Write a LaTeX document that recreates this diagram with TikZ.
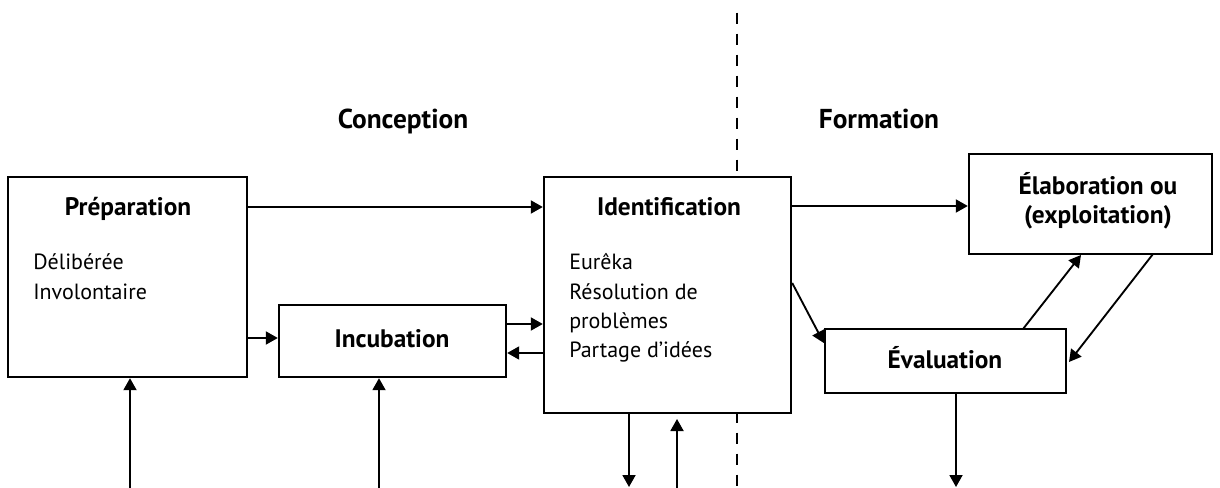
\documentclass[tikz,border=0pt]{standalone}
\usepackage{fontspec}
\setmainfont{PT Sans}
\usetikzlibrary{arrows.meta,fit}
\begin{document}
\begin{tikzpicture}[x=0.75pt,y=-0.75pt,
  box/.style={draw, line width=1.8pt, fill=white, inner sep=0pt},
  link/.style={line width=1.4pt, -{Triangle[length=9pt,width=9.75pt]}},
  divider/.style={line width=2pt, dash pattern=on 8.25pt off 7.5pt},
  phase/.style={font=\fontsize{20.5}{24}\selectfont\bfseries, anchor=base, inner sep=0pt},
  head/.style={font=\fontsize{19}{22}\selectfont\bfseries, anchor=base, inner sep=0pt},
  item/.style={font=\fontsize{16.5}{20}\selectfont, anchor=base west, inner sep=0pt}
]
\useasboundingbox (0,0) rectangle (1220,488);

% phase divider
\coordinate (dtop) at (737,12.7);
\coordinate (dbot) at (737,488);
\draw[divider] (dtop) -- (dbot);

% phase titles
\node[phase] (conc) at (403,129) {Conception};
\node[phase] (form) at (879,129) {Formation};

% process boxes
\node[box, fit={(8,177) (247,377)}] (prep) {};
\node[box, fit={(279,305) (506,377)}] (incub) {};
\node[box, fit={(544,177) (791,413)}] (ident) {};
\node[box, fit={(969,154) (1212,254)}] (elab) {};
\node[box, fit={(825,329) (1066,393)}] (eval) {};

% box contents
\node[head] (tprep) at (128,216) {Préparation};
\node[item] (p1) at (33,270) {Délibérée};
\node[item] (p2) at (33,299) {Involontaire};
\node[head] (tincub) at (392,347) {Incubation};
\node[head] (tident) at (669,216) {Identification};
\node[item] (i1) at (569,270) {Eurêka};
\node[item] (i2) at (569,299) {Résolution de};
\node[item] (i3) at (569,328) {problèmes};
\node[item] (i4) at (569,357) {Partage d’idées};
\node[head] (telab1) at (1098,195) {Élaboration ou};
\node[head] (telab2) at (1098,224) {(exploitation)};
\node[head] (teval) at (945,368) {Évaluation};

% helper heights for horizontal links
\coordinate (h1) at (0,207);
\coordinate (h2) at (0,338);
\coordinate (h3) at (0,324);
\coordinate (h4) at (0,353);
\coordinate (h5) at (0,206);
\coordinate (h6) at (0,283);
\coordinate (h7) at (0,343);

\draw[link] (prep.east |- h1) -- (ident.west |- h1);
\draw[link] (prep.east |- h2) -- (incub.west |- h2);
\draw[link] (incub.east |- h3) -- (ident.west |- h3);
\draw[link] (ident.west |- h4) -- (incub.east |- h4);
\draw[link] (ident.east |- h5) -- (elab.west |- h5);
\draw[link] (ident.east |- h6) -- (eval.west |- h7);

% loop between evaluation and elaboration
\coordinate (ev1) at (1023,329);
\coordinate (el1) at (1081,255);
\coordinate (el2) at (1153,254);
\coordinate (ev2) at (1069,362);
\draw[link] (ev1) -- (el1);
\draw[link] (el2) -- (ev2);

% inputs and outputs at the bottom edge
\coordinate (in1) at (130,488);
\coordinate (in2) at (379,488);
\coordinate (out1) at (629,487);
\coordinate (in3) at (677,488);
\coordinate (in3end) at (677,419);
\coordinate (out2) at (956,487);
\draw[link] (in1) -- (prep.south -| in1);
\draw[link] (in2) -- (incub.south -| in2);
\draw[link] (ident.south -| out1) -- (out1);
\draw[link] (in3) -- (in3end);
\draw[link] (eval.south -| out2) -- (out2);
\end{tikzpicture}
\end{document}
